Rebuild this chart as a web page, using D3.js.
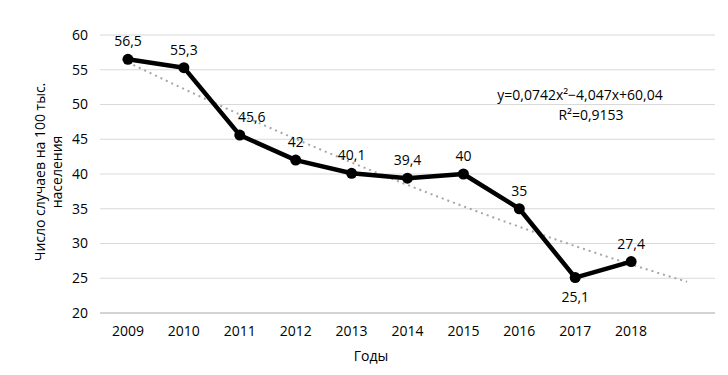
<!DOCTYPE html>
<html>
<head>
<meta charset="utf-8">
<script src="https://cdn.jsdelivr.net/npm/d3@7"></script>
<style>
  body { margin: 0; background: #fff; }
  svg text { font-family: "Open Sans", Lato, sans-serif; fill: #000; }
</style>
</head>
<body>
<div id="chart"></div>
<script>
const years = ["2009", "2010", "2011", "2012", "2013", "2014", "2015", "2016", "2017", "2018"];
const values = [56.5, 55.3, 45.6, 42, 40.1, 39.4, 40, 35, 25.1, 27.4];
// polynomial trend as drawn, one period forecast past 2018
const trendYears = ["2009", "2010", "2011", "2012", "2013", "2014", "2015", "2016", "2017", "2018", "2019"];
const trendValues = [56.07, 52.24, 48.57, 45.04, 41.66, 38.43, 35.35, 32.41, 29.63, 26.99, 24.50];
const yTicks = [20, 25, 30, 35, 40, 45, 50, 55, 60];
const belowLabels = ["2017"];

const W = 728, H = 375;
const margin = { top: 35, right: 13, bottom: 62, left: 100 },
    width = W - margin.left - margin.right,
    height = H - margin.top - margin.bottom;

const svg = d3.select("#chart").append("svg")
    .attr("width", W)
    .attr("height", H);

const g = svg.append("g")
    .attr("transform", `translate(${margin.left},${margin.top})`);

const x = d3.scaleBand()
    .domain(trendYears)
    .range([0, width]);

const cx = d => x(d) + x.bandwidth() / 2;

const y = d3.scaleLinear()
    .domain([20, 60])
    .range([height, 0]);

// gridlines
g.selectAll(".grid")
    .data(yTicks)
    .enter()
    .append("line")
    .attr("x1", 0)
    .attr("x2", width)
    .attr("y1", d => y(d))
    .attr("y2", d => y(d))
    .attr("stroke", d => d === 20 ? "#a6a6a6" : "#d9d9d9")
    .attr("stroke-width", 1);

// y tick labels
g.selectAll(".ylab")
    .data(yTicks)
    .enter()
    .append("text")
    .attr("x", -12)
    .attr("y", d => y(d))
    .attr("dy", "0.35em")
    .attr("text-anchor", "end")
    .style("font-size", "14px")
    .text(d => d);

// x tick labels
g.selectAll(".xlab")
    .data(years)
    .enter()
    .append("text")
    .attr("x", d => cx(d))
    .attr("y", height + 23)
    .attr("text-anchor", "middle")
    .style("font-size", "14px")
    .text(d => d);

// trend line
g.append("path")
    .datum(trendYears.map((d, i) => [d, trendValues[i]]))
    .attr("fill", "none")
    .attr("stroke", "#a6a6a6")
    .attr("stroke-width", 2)
    .attr("stroke-dasharray", "2,4")
    .attr("d", d3.line().curve(d3.curveMonotoneX).x(d => cx(d[0])).y(d => y(d[1])));

// data line
const pts = years.map((d, i) => [d, values[i]]);
g.append("path")
    .datum(pts)
    .attr("fill", "none")
    .attr("stroke", "#000")
    .attr("stroke-width", 4.5)
    .attr("stroke-linejoin", "round")
    .attr("d", d3.line().x(d => cx(d[0])).y(d => y(d[1])));

g.selectAll(".dot")
    .data(pts)
    .enter()
    .append("circle")
    .attr("cx", d => cx(d[0]))
    .attr("cy", d => y(d[1]))
    .attr("r", 5.5)
    .attr("fill", "#000");

g.selectAll(".vlab")
    .data(pts)
    .enter()
    .append("text")
    .attr("x", d => cx(d[0]) + (d[0] === "2011" ? 12 : 0))
    .attr("y", d => belowLabels.includes(d[0]) ? y(d[1]) + 24 : y(d[1]) - 13)
    .attr("text-anchor", "middle")
    .style("font-size", "14px")
    .text(d => String(d[1]).replace(".", ","));

// equation
g.append("text")
    .attr("x", 480)
    .attr("y", 65)
    .attr("text-anchor", "middle")
    .style("font-size", "14px")
    .text("y=0,0742x²−4,047x+60,04");

g.append("text")
    .attr("x", 491)
    .attr("y", 85)
    .attr("text-anchor", "middle")
    .style("font-size", "14px")
    .text("R²=0,9153");

// axis titles
svg.append("text")
    .attr("x", 371)
    .attr("y", 361)
    .attr("text-anchor", "middle")
    .style("font-size", "14px")
    .text("Годы");

const yTitle = svg.append("text")
    .attr("transform", "translate(0,172) rotate(-90)")
    .attr("text-anchor", "middle")
    .style("font-size", "14px");
yTitle.append("tspan").attr("x", 0).attr("y", 45).text("Число случаев на 100 тыс.");
yTitle.append("tspan").attr("x", 0).attr("y", 62).text("населения");
</script>
</body>
</html>
